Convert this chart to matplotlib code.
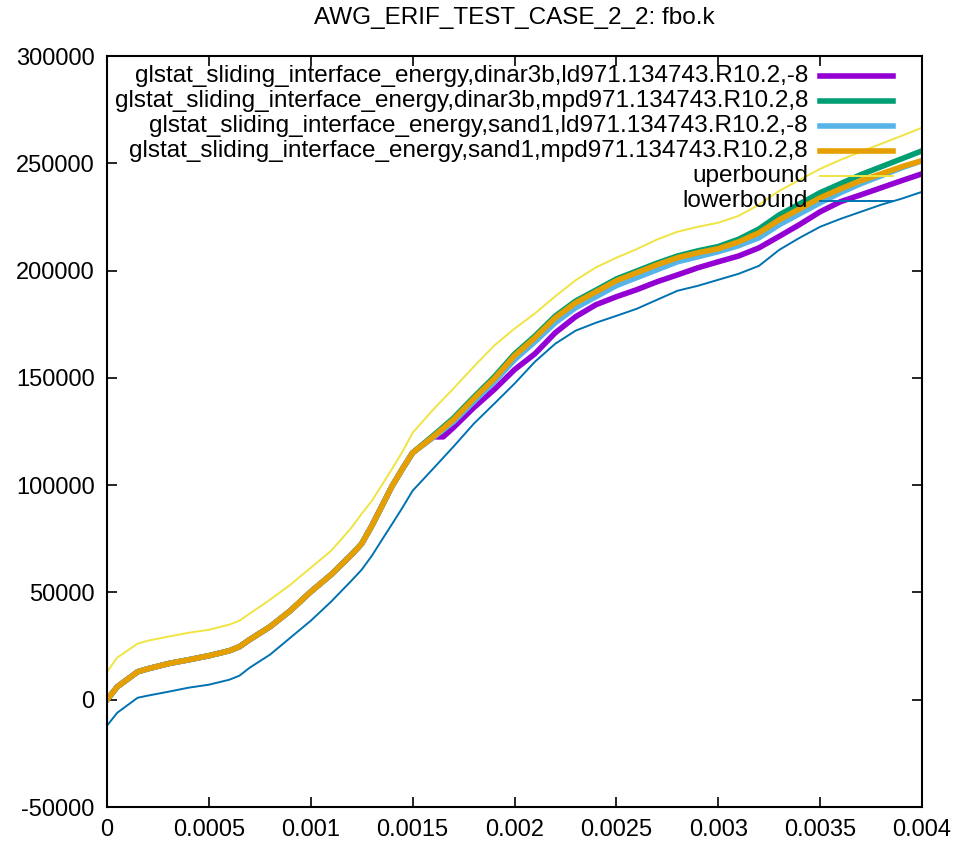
import numpy as np
import matplotlib
matplotlib.use("Agg")
import matplotlib.pyplot as plt
from matplotlib.lines import Line2D

plt.rcParams['font.family'] = ['Liberation Sans', 'DejaVu Sans']

# x samples (time) shared by all curves
time = [0.0, 0.00005, 0.00015, 0.0002, 0.0003, 0.0004, 0.0005, 0.0006,
        0.00065, 0.0007, 0.0008, 0.0009, 0.001, 0.0011, 0.0012, 0.00125,
        0.0013, 0.00135, 0.0014, 0.00145, 0.0015, 0.0016, 0.0017, 0.0018,
        0.0019, 0.002, 0.0021, 0.0022, 0.0023, 0.0024, 0.0025, 0.0026,
        0.0027, 0.0028, 0.0029, 0.003, 0.0031, 0.0032, 0.0033, 0.0034,
        0.0035, 0.0036, 0.0037, 0.0038, 0.0039, 0.004]

# common early part (identical for the four runs up to ~0.0015)
early = [0, 6000, 13000, 14400, 16800, 18600, 20500, 22800, 24700, 28000,
         34000, 41500, 50300, 58300, 67600, 72700, 81100, 90400, 99700,
         107600, 115100]

sand1_mpd = early + [122500, 130500, 140300, 149600, 160300, 168700, 178000,
                     185000, 190100, 195300, 199000, 202700, 206000, 208300,
                     210200, 213400, 217600, 223700, 228800, 233900, 238100,
                     241900, 245100, 248400, 251200]

dinar3b_mpd = early + [123000, 131200, 141000, 150400, 161100, 169500,
                       178800, 185800, 190900, 196100, 199800, 203500,
                       206800, 209200, 211200, 214600, 219400, 226000,
                       231100, 236300, 240500, 244700, 248400, 252100, 255800]

sand1_ld = early + [122100, 129500, 138900, 148200, 158400, 166800, 175700,
                    182700, 187800, 193000, 196700, 200400, 204100, 206400,
                    208800, 211600, 215300, 221400, 226500, 231600, 236300,
                    240500, 244200, 247900, 251200]

# dinar3b ld drops off at ~0.00165
dinar3b_ld_x = time[:22] + [0.00165] + time[22:]
dinar3b_ld = early + [122500, 122500, 126800, 136100, 144500, 153800, 161200,
                      171000, 178500, 184100, 187800, 191100, 194800, 198000,
                      201300, 204100, 206800, 210600, 216000, 221500, 227400,
                      232100, 235300, 238600, 241900, 245100]

uperbound = [13000, 19600, 26100, 27500, 29400, 31200, 32600, 35000, 36800,
             40100, 46600, 53600, 61500, 69400, 80200, 86700, 92700, 100200,
             107700, 115600, 124400, 135100, 145000, 155200, 165000, 172900,
             180000, 188000, 195500, 201500, 206000, 210000, 214500, 218100,
             220400, 222300, 225500, 230700, 237200, 242300, 247400, 251600,
             255400, 259100, 262800, 266600]

lowerbound = [-12100, -6100, 900, 1900, 3700, 5600, 7000, 9300, 11200, 14900,
              21000, 28900, 36800, 45700, 55500, 60600, 67100, 74600, 82000,
              89500, 97400, 107600, 117900, 128600, 137900, 147300, 157500,
              165900, 172000, 175700, 178900, 182200, 186400, 190600, 192900,
              195700, 198500, 202200, 209700, 215300, 220400, 224100, 227400,
              230700, 233500, 236700]

labels = [
    "glstat_sliding_interface_energy,dinar3b,ld971.134743.R10.2,-8",
    "glstat_sliding_interface_energy,dinar3b,mpd971.134743.R10.2,8",
    "glstat_sliding_interface_energy,sand1,ld971.134743.R10.2,-8",
    "glstat_sliding_interface_energy,sand1,mpd971.134743.R10.2,8",
    "uperbound",
    "lowerbound",
]
colors = ["#9400D3", "#009E73", "#56B4E9", "#E69F00", "#F0E442", "#0072B2"]
widths = [4.0, 4.0, 4.0, 4.0, 1.4, 1.4]

x_ticks = [0, 0.0005, 0.001, 0.0015, 0.002, 0.0025, 0.003, 0.0035, 0.004]
x_tick_labels = ["0", "0.0005", "0.001", "0.0015", "0.002", "0.0025",
                 "0.003", "0.0035", "0.004"]
y_ticks = [-50000, 0, 50000, 100000, 150000, 200000, 250000, 300000]
y_tick_labels = ["-50000", "0", "50000", "100000", "150000", "200000",
                 "250000", "300000"]

FS = 17.5

fig = plt.figure(figsize=(9.61, 8.48), dpi=100)
ax = fig.add_axes([107 / 961, 1 - 807 / 848, 815 / 961, 751 / 848])

series = [(dinar3b_ld_x, dinar3b_ld), (time, dinar3b_mpd), (time, sand1_ld),
          (time, sand1_mpd), (time, uperbound), (time, lowerbound)]
for (xs, ys), c, w in zip(series, colors, widths):
    ax.plot(xs, ys, color=c, lw=w, solid_joinstyle='round')

ax.set_xlim(0, 0.004)
ax.set_ylim(-50000, 300000)
ax.set_xticks(x_ticks)
ax.set_xticklabels(x_tick_labels)
ax.set_yticks(y_ticks)
ax.set_yticklabels(y_tick_labels)
ax.tick_params(direction='in', length=7, width=1.2, top=True, right=True,
               labelsize=17, pad=9)
for s in ax.spines.values():
    s.set_linewidth(1.5)

# gnuplot style key: right-aligned text with the sample on its right
for i, (lab, c, w) in enumerate(zip(labels, colors, widths)):
    yk = 0.9734 - i * 0.0333
    ax.text(0.860, yk, lab, transform=ax.transAxes, ha='right', va='center',
            fontsize=FS)
    ax.add_line(Line2D([0.875, 0.9644], [yk, yk], transform=ax.transAxes,
                       color=c, lw=w))

fig.text(514 / 961, 1 - 18 / 848, "AWG_ERIF_TEST_CASE_2_2: fbo.k",
         ha='center', va='center', fontsize=FS)

fig.savefig("out.png", dpi=100)
